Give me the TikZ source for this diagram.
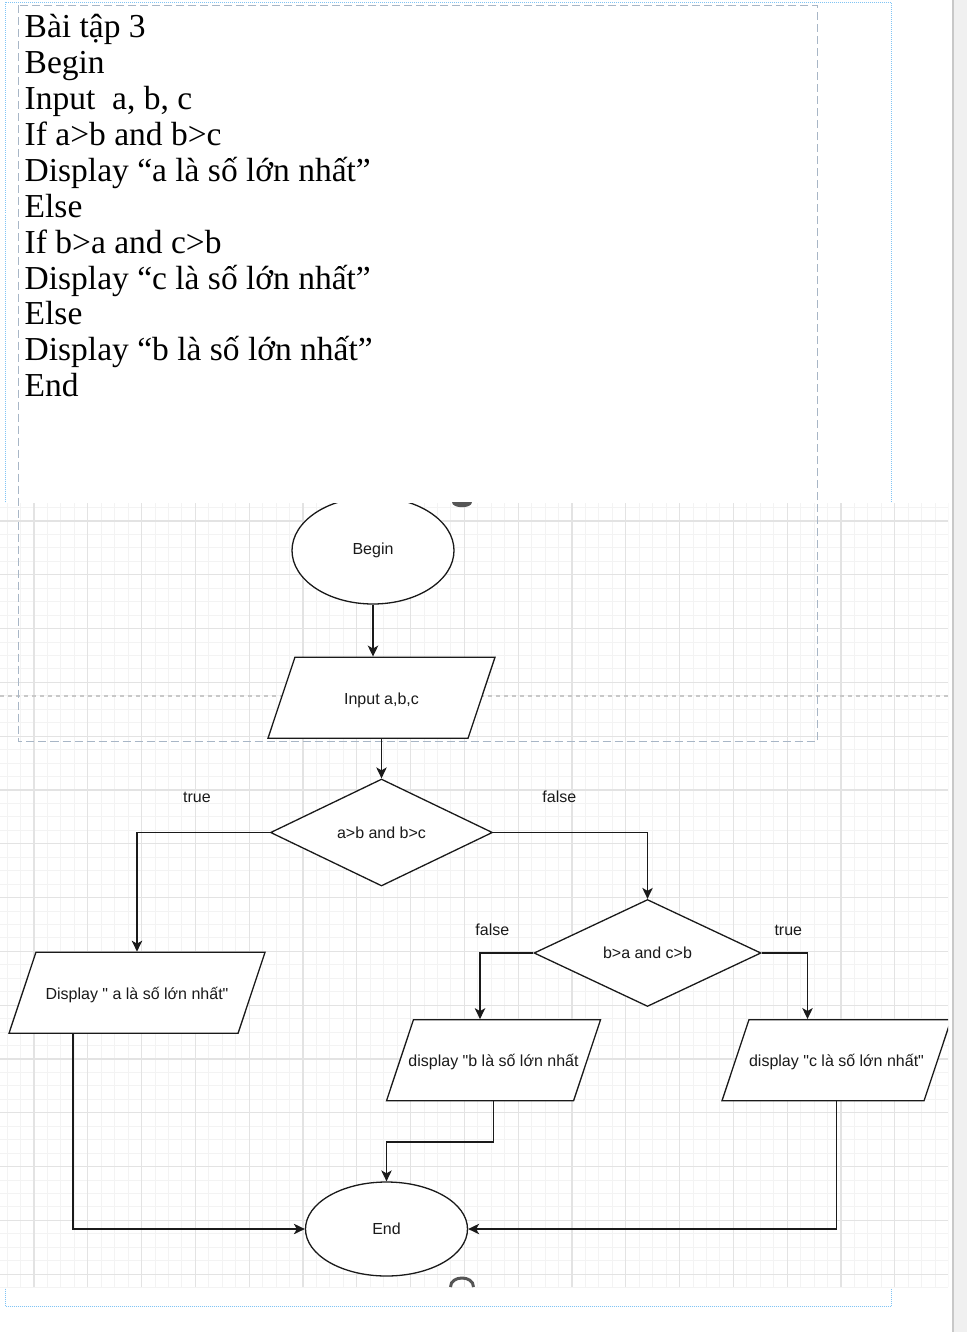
\documentclass[tikz,border=0pt]{standalone}
\usepackage{fontspec}
\setmainfont{Liberation Serif}
\setsansfont{Liberation Sans}[Ligatures=TeXOff]
\usetikzlibrary{shapes.geometric, arrows.meta}

\definecolor{gridmajor}{HTML}{E3E3E3}
\definecolor{gridminor}{HTML}{F3F3F3}
\definecolor{pagedash}{HTML}{A8B6C6}
\definecolor{selblue}{HTML}{80C4F5}
\definecolor{panel}{HTML}{F0F0F0}
\definecolor{panelline}{HTML}{C8C8C8}
\definecolor{handle}{HTML}{555555}
\definecolor{ink}{HTML}{1A1A1A}

\tikzset{
  flow/.style={draw=ink, line width=1.3pt, fill=white, text=ink,
    font=\fontsize{16}{19}\selectfont\sffamily, inner sep=0pt},
  terminal/.style={flow, ellipse, minimum width=162pt},
  decision/.style={flow, diamond, minimum height=107pt},
  io/.style={flow, trapezium, trapezium left angle=71.6,
    trapezium right angle=108.4, trapezium stretches body,
    text height=14pt, text depth=1pt, inner ysep=33pt},
  edgelabel/.style={font=\fontsize{16}{19}\selectfont\sffamily, text=ink, inner sep=0pt},
  arrow/.style={draw=ink, line width=1.3pt, -{Stealth[length=11pt, width=10.5pt, inset=3pt]}},
  codeline/.style={anchor=base west, inner sep=0pt, font=\fontsize{33.5}{36}\selectfont\rmfamily}
}

\begin{document}
\begin{tikzpicture}[x=1pt, y=-1pt]
  \useasboundingbox (0,0) rectangle (967,1332);
  \fill[white] (0,0) rectangle (967,1332);
  % page frame and side panel
  \draw[selblue, line width=1pt, dash pattern=on 1pt off 1pt] (5,2.5) rectangle (891.5,1306);
  \fill[panel] (953,0) rectangle (967,1332);
  \draw[panelline, line width=1.5pt] (953,0) -- (953,1332);

  % grid
  \fill[white] (0,503) rectangle (948,1287);
  \begin{scope}
    \clip (0,503) rectangle (948,1287);
    \foreach \i in {-3,...,68}
      \draw[gridminor, line width=1pt] ({34+13.45*\i},503) -- ({34+13.45*\i},1287);
    \foreach \i in {-2,...,57}
      \draw[gridminor, line width=1pt] (0,{521+13.45*\i}) -- (948,{521+13.45*\i});
    \foreach \i in {-1,...,17}
      \draw[gridmajor, line width=1.2pt] ({34+53.8*\i},503) -- ({34+53.8*\i},1287);
    \foreach \i in {-1,...,14}
      \draw[gridmajor, line width=1.2pt] (0,{521+53.8*\i}) -- (948,{521+53.8*\i});
  \end{scope}
  \draw[panelline, line width=1.3pt, dash pattern=on 4pt off 4pt] (0,696) -- (948,696);
  \draw[pagedash, line width=1pt, dash pattern=on 8pt off 4pt] (18,5.5) rectangle (817.5,741);

  % pseudocode
  \foreach \txt [count=\i from 0] in {Bài tập 3, Begin, {Input~ a, b, c}, If a>b and b>c,
      Display “a là số lớn nhất”, Else, If b>a and c>b, Display “c là số lớn nhất”,
      Else, Display “b là số lớn nhất”, End}
    \node[codeline] (line\i) at (24.5,{37.7+35.9*\i}) {\txt};

  % flowchart
  \begin{scope}
    \clip (0,503) rectangle (948,1287);
    \node[terminal, minimum height=107pt] (begin) at (373,550.5) {Begin};
    \node[io, minimum width=227pt] (input) at (381.5,697.7) {\makebox[0pt]{Input a,b,c}};
    \node[decision, minimum width=222pt] (cond1) at (381.5,832.5) {a>b and b>c};
    \node[decision, minimum width=227pt] (cond2) at (647.5,953) {b>a and c>b};
    \node[io, minimum width=256pt] (showa) at (137,992.8) {\makebox[0pt]{Display " a là số lớn nhất"}};
    \node[io, minimum width=214pt] (showb) at (493.5,1060.3) {\makebox[0pt]{display "b là số lớn nhất}};
    \node[io, minimum width=229pt] (showc) at (836.5,1060.2) {\makebox[0pt]{display "c là số lớn nhất"}};
    \node[terminal, minimum height=94pt] (finish) at (386.5,1229) {End};

    \node[edgelabel] (true1) at (197,797) {true};
    \node[edgelabel] (false1) at (559.3,797) {false};
    \node[edgelabel] (false2) at (492.3,930) {false};
    \node[edgelabel] (true2) at (788.3,930) {true};

    \draw[arrow] (begin.south) -- (begin.south |- input.north);
    \draw[arrow] (input.south) -- (cond1.north);
    \draw[arrow] (cond1.west) -| (showa.north);
    \draw[arrow] (cond1.east) -| (cond2.north);
    \draw[arrow] (cond2.west) -| ([xshift=-13.5pt]showb.north);
    \draw[arrow] (cond2.east) -| ([xshift=-29pt]showc.north);
    \draw[arrow] ([xshift=-64pt]showa.south) |- (finish.west);
    \draw[arrow] (showb.south) -- ++(0,40.6) -| (finish.north);
    \draw[arrow] (showc.south) |- (finish.east);
  \end{scope}

  % clipped handles
  \fill[handle] (452,502) .. controls (452,508.7) and (472,508.7) .. (472,502) -- cycle;
  \draw[handle, line width=3pt] (450.5,1287) .. controls (450.5,1275) and (473.5,1275) .. (473.5,1287);
\end{tikzpicture}
\end{document}
